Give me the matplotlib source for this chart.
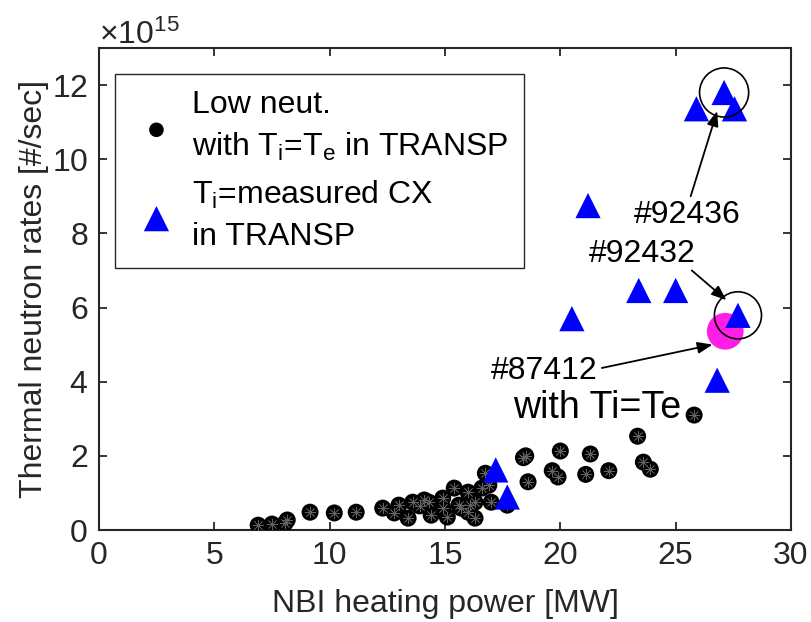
import matplotlib
matplotlib.use("Agg")
import matplotlib.pyplot as plt
import numpy as np

plt.rcParams['font.family'] = ['Liberation Sans', 'DejaVu Sans']
plt.rcParams['mathtext.fontset'] = 'custom'
plt.rcParams['mathtext.rm'] = 'Liberation Sans'
plt.rcParams['mathtext.it'] = 'Liberation Sans'

# Low neutron shots, Ti=Te in TRANSP  (x: NBI power MW, y: rate in 1e15 #/sec)
low_x = [6.9, 7.5, 8.07, 8.16, 9.15, 10.2, 11.15, 12.3, 12.8, 13.0, 13.4, 13.6,
         13.9, 14.1, 14.4, 14.3, 14.9, 15.1, 14.9, 15.4, 15.6, 16.0, 15.7, 16.1,
         16.3, 16.0, 16.3, 16.6, 16.75, 16.9, 17.0, 17.7, 18.4, 18.5, 18.6,
         19.65, 19.9, 20.0, 21.1, 21.3, 22.1, 23.35, 23.6, 23.9, 25.8]
low_y = [0.13, 0.16, 0.19, 0.27, 0.48, 0.46, 0.48, 0.59, 0.46, 0.67, 0.32, 0.75,
         0.65, 0.81, 0.40, 0.75, 0.86, 0.35, 0.59, 1.13, 0.67, 1.02, 0.59, 0.67,
         0.75, 0.48, 0.32, 1.13, 1.53, 1.21, 0.75, 0.67, 1.95, 2.0, 1.3,
         1.6, 1.43, 2.13, 1.5, 2.05, 1.6, 2.53, 1.83, 1.64, 3.1]

# Ti = measured CX in TRANSP
cx_x = [17.2, 17.7, 20.5, 21.2, 23.4, 25.0, 26.8, 27.7, 25.9, 27.1, 27.55]
cx_y = [1.62, 0.89, 5.7, 8.75, 6.46, 6.46, 4.04, 5.79, 11.36, 11.8, 11.36]

# #87412 with Ti=Te
hl_x = [27.15]
hl_y = [5.36]

scale = 1e15
xticks = [0, 5, 10, 15, 20, 25, 30]
yticks = [0, 2, 4, 6, 8, 10, 12]

fig = plt.figure(figsize=(8.11, 6.22), dpi=100)
ax = fig.add_axes([99/811, 92/622, (791-99)/811, (530-48)/622])

gray = '0.15'
fs = 23

ax.scatter(low_x, np.array(low_y)*scale, s=150, marker='o', c='black',
           edgecolors='none', zorder=3,
           label='Low neut.\nwith T$_\\mathrm{i}$=T$_\\mathrm{e}$ in TRANSP')
ax.scatter(low_x, np.array(low_y)*scale, s=60, marker=(8, 2, 0), c='0.38',
           linewidths=0.5, zorder=3.1)
ax.scatter(cx_x, np.array(cx_y)*scale, s=330, marker='^', c='blue',
           edgecolors='none', zorder=4,
           label='T$_\\mathrm{i}$=measured CX\nin TRANSP')
ax.scatter(hl_x, np.array(hl_y)*scale, s=700, marker='o', c='#ff1ee6',
           edgecolors='none', zorder=3.5)

# circles around highlighted shots
ax.scatter([27.1], [11.8*scale], s=1250, marker='o', facecolors='none',
           edgecolors='black', linewidths=1.2, zorder=5)
ax.scatter([27.7], [5.79*scale], s=1150, marker='o', facecolors='none',
           edgecolors='black', linewidths=1.2, zorder=5)

ax.set_xlim(0, 30)
ax.set_ylim(0, 13*scale)
ax.set_xticks(xticks)
ax.set_yticks(np.array(yticks)*scale)
ax.ticklabel_format(axis='y', style='sci', scilimits=(15, 15), useMathText=True)
ax.yaxis.get_offset_text().set_fontsize(fs)
ax.yaxis.get_offset_text().set_color(gray)

ax.tick_params(direction='in', top=True, right=True, length=6, width=1.3,
               colors=gray, labelsize=fs, pad=8)
for sp in ax.spines.values():
    sp.set_color(gray)
    sp.set_linewidth(1.5)

ax.set_xlabel('NBI heating power [MW]', fontsize=fs, color=gray, labelpad=13)
ax.set_ylabel('Thermal neutron rates [#/sec]', fontsize=fs, color=gray, labelpad=2)

arrowprops = dict(arrowstyle='-|>,head_length=0.9,head_width=0.35', color='black',
                  lw=1.3, shrinkA=0, shrinkB=0)
ax.annotate('', xy=(26.8, 11.3*scale), xytext=(25.65, 9.0*scale),
            arrowprops=arrowprops)
ax.annotate('', xy=(27.2, 6.2*scale), xytext=(25.7, 7.0*scale),
            arrowprops=arrowprops)
ax.annotate('', xy=(26.6, 5.0*scale), xytext=(21.8, 4.37*scale),
            arrowprops=arrowprops)

ax.text(25.5, 8.5*scale, '#92436', fontsize=fs, ha='center', va='center')
ax.text(23.55, 7.45*scale, '#92432', fontsize=fs, ha='center', va='center')
ax.text(19.3, 4.3*scale, '#87412', fontsize=fs, ha='center', va='center')
ax.text(21.6, 3.3*scale, 'with Ti=Te', fontsize=fs+4, ha='center', va='center')

leg = ax.legend(loc='upper left', bbox_to_anchor=(0.023, 0.946), fontsize=fs,
                frameon=True, fancybox=False, edgecolor=gray, framealpha=1,
                labelspacing=0.5, handletextpad=0.3, borderpad=0.5,
                handlelength=1.6, borderaxespad=0)
leg.get_frame().set_linewidth(1.0)
for t in leg.get_texts():
    t.set_linespacing(1.45)
leg.legend_handles[0].set_sizes([110])

fig.savefig('out.png', dpi=100)
